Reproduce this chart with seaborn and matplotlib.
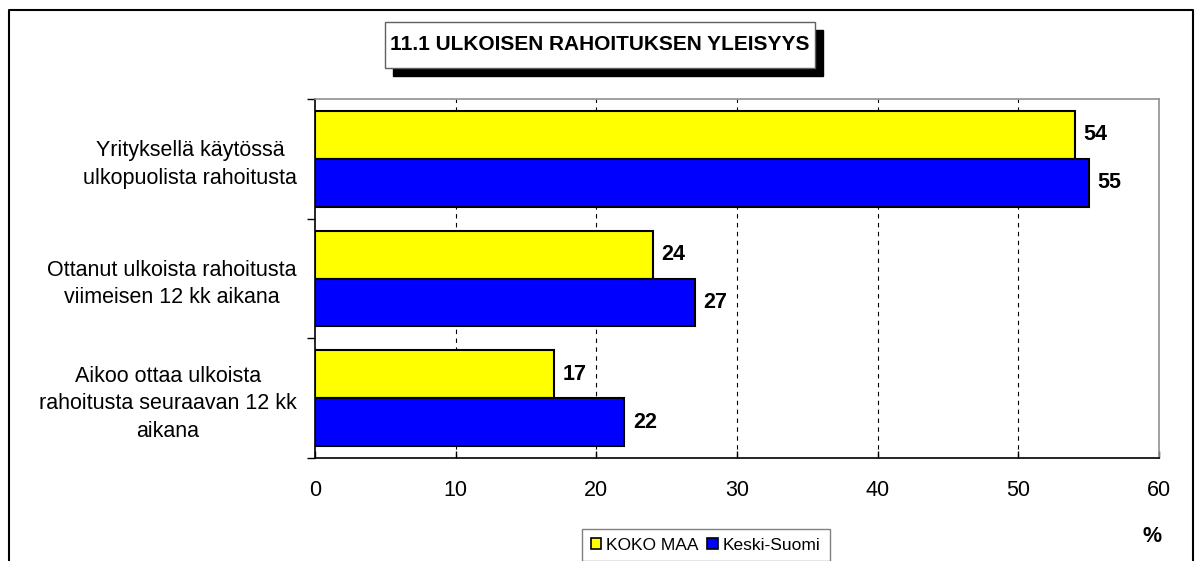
import pandas as pd
import seaborn as sns
import matplotlib.pyplot as plt
from matplotlib.patches import Rectangle, Patch
from matplotlib.lines import Line2D

# data
categories = ["Yrityksellä käytössä\nulkopuolista rahoitusta",
              "Ottanut ulkoista rahoitusta\nviimeisen 12 kk aikana",
              "Aikoo ottaa ulkoista\nrahoitusta seuraavan 12 kk\naikana"]
series = ["KOKO MAA", "Keski-Suomi"]
koko_maa = [54, 24, 17]
keski_suomi = [55, 27, 22]
colors = ["#FFFF00", "#0000FF"]
x_ticks = [0, 10, 20, 30, 40, 50, 60]

df = pd.DataFrame({
    "cat": categories * 2,
    "series": [series[0]] * 3 + [series[1]] * 3,
    "value": koko_maa + keski_suomi,
})

sns.set_style("white")
plt.rcParams["font.family"] = ["Liberation Sans", "DejaVu Sans"]
plt.rcParams["text.color"] = "black"
plt.rcParams["xtick.color"] = "black"
plt.rcParams["ytick.color"] = "black"
plt.rcParams["xtick.labelcolor"] = "black"
plt.rcParams["ytick.labelcolor"] = "black"
fs = 15.5

fig = plt.figure(figsize=(12.01, 5.61), dpi=100)
W, H = 1201, 561
ax = fig.add_axes([315 / W, 1 - 458 / H, (1159 - 315) / W, (458 - 99) / H])

sns.barplot(data=df, y="cat", x="value", hue="series", orient="h",
            palette=colors, edgecolor="black", linewidth=1.5, width=0.8,
            saturation=1, ax=ax, legend=False, zorder=3)

# etiketit palkkien perään
for c in ax.containers:
    ax.bar_label(c, padding=6, fontsize=fs, fontweight="bold", color="black")

ax.set_xlim(0, 60)
ax.set_ylim(2.5, -0.5)
ax.set_xticks(x_ticks)
ax.set_xlabel("")
ax.set_ylabel("")
ax.tick_params(axis="x", direction="in", length=5, width=1, pad=16,
               labelsize=fs, bottom=True)
ax.tick_params(axis="y", which="major", length=0, pad=13, labelsize=fs)
ax.set_yticks([-0.5, 0.5, 1.5, 2.5], minor=True)
ax.tick_params(axis="y", which="minor", direction="out", length=6, width=1, left=True)
for lbl in ax.get_yticklabels():
    lbl.set_multialignment("center")
    lbl.set_linespacing(1.4)

for x in x_ticks[1:-1]:
    ax.axvline(x, color="black", linestyle=(0, (4, 4)), linewidth=0.8, zorder=1)

ax.spines["left"].set_color("black")
ax.spines["bottom"].set_color("black")
ax.spines["top"].set_color("#909090")
ax.spines["right"].set_color("#909090")
for s in ax.spines.values():
    s.set_linewidth(1.2)

# ulkoreunus (vasen, ylä, oikea)
fig.add_artist(Line2D([9 / W, 9 / W, 1193 / W, 1193 / W],
                      [0, 1 - 10 / H, 1 - 10 / H, 0],
                      color="black", linewidth=1.5))

# otsikkolaatikko varjolla
fig.add_artist(Rectangle((393 / W, 1 - 76 / H), 430 / W, 46 / H,
                         facecolor="black", edgecolor="black"))
fig.add_artist(Rectangle((385 / W, 1 - 68 / H), 430 / W, 46 / H,
                         facecolor="white", edgecolor="#606060", linewidth=1))
fig.text(600 / W, 1 - 45 / H, "11.1 ULKOISEN RAHOITUKSEN YLEISYYS",
         ha="center", va="center", fontsize=15, fontweight="bold")

# selite
handles = [Patch(facecolor=colors[0], edgecolor="black", linewidth=1.2),
           Patch(facecolor=colors[1], edgecolor="black", linewidth=1.2)]
fig.legend(handles, series, loc="upper left", bbox_to_anchor=(582 / W, 1 - 529 / H),
           ncol=2, fontsize=12.5, frameon=True, fancybox=False, edgecolor="#606060",
           borderaxespad=0, handlelength=0.6, handleheight=0.6, handletextpad=0.3,
           columnspacing=0.5, borderpad=0.5)

fig.text(1152 / W, 1 - 537 / H, "%", ha="center", va="center",
         fontsize=fs, fontweight="bold")

fig.savefig("out.png", dpi=100)
